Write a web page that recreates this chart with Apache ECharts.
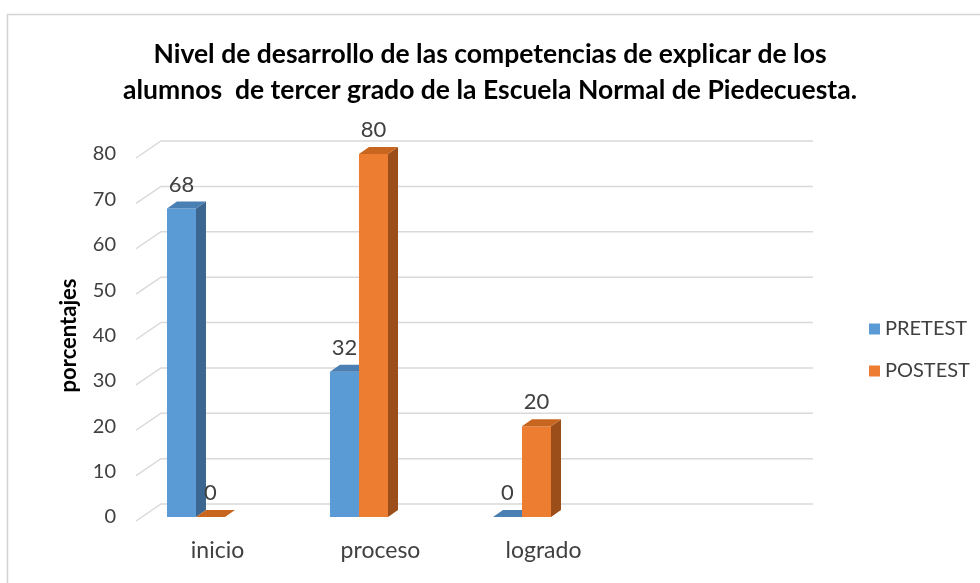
<!DOCTYPE html>
<html>
<head>
<meta charset="utf-8">
<script src="https://cdn.jsdelivr.net/npm/echarts@6/dist/echarts.min.js"></script>
<style>
  html, body { margin: 0; padding: 0; background: #fff; }
  #chart { width: 980px; height: 583px; }
</style>
</head>
<body>
<div id="chart"></div>
<script>
// datos del grafico
var categorias = ['inicio', 'proceso', 'logrado'];
var pretestVals = [68, 32, 0];
var postestVals = [0, 80, 20];
var ticksY = [0, 10, 20, 30, 40, 50, 60, 70, 80];

var colores = {
  PRETEST: { front: '#5b9bd5', top: '#4a7fb3', side: '#3a6690' },
  POSTEST: { front: '#ed7d31', top: '#c8651f', side: '#9c4e1a' }
};

var fuente = 'Lato, "Open Sans", sans-serif';
var DX = 10, DY = 7;          // profundidad de las barras
var WX = 25, WY = 17;         // profundidad de la pared

function barras3d(nombre, idx) {
  var c = colores[nombre];
  return function (params, api) {
    var cat = api.value(0), v = api.value(1);
    var top = api.coord([cat, v]);
    var base = api.coord([cat, 0]);
    var band = api.size([1, 0])[0];
    var w = band * 0.178;
    var cx = top[0] - band * 0.132;
    var x0 = idx === 0 ? cx - w : cx;
    var ty = top[1], by = base[1];
    return {
      type: 'group',
      children: [
        { type: 'rect', shape: { x: x0, y: ty, width: w, height: by - ty }, style: { fill: c.front } },
        { type: 'polygon', shape: { points: [[x0 + w, ty], [x0 + w + DX, ty - DY], [x0 + w + DX, by - DY], [x0 + w, by]] }, style: { fill: c.side } },
        { type: 'polygon', shape: { points: [[x0, ty], [x0 + DX, ty - DY], [x0 + w + DX, ty - DY], [x0 + w, ty]] }, style: { fill: c.top } },
        { type: 'text', x: x0 + w / 2, y: ty - 24, style: { text: String(v), fill: '#404040', font: '22px ' + fuente, align: 'center', verticalAlign: 'middle' } }
      ]
    };
  };
}

function pared(params, api) {
  var cs = params.coordSys;
  var y = api.coord([0, api.value(0)])[1];
  var x0 = cs.x, x1 = cs.x + cs.width;
  return {
    type: 'polyline',
    shape: { points: [[x0, y + 4], [x0 + WX, y + 4 - WY], [x1 + WX, y + 4 - WY]] },
    style: { stroke: '#d9d9d9', lineWidth: 1.5, fill: null }
  };
}

var chart = echarts.init(document.getElementById('chart'));
chart.setOption({
  animation: false,
  title: {
    text: 'Nivel de desarrollo de las competencias de explicar de los\nalumnos  de tercer grado de la Escuela Normal de Piedecuesta.',
    left: 'center',
    top: 31,
    textStyle: { fontFamily: fuente, fontWeight: 'bold', fontSize: 26.5, lineHeight: 36, color: '#000' }
  },
  graphic: [{
    type: 'rect', left: 5, top: 12, shape: { width: 1000, height: 600 },
    style: { fill: null, stroke: '#d4d4d4', lineWidth: 1.5 }, z: -1
  }],
  legend: {
    orient: 'vertical',
    left: 864,
    top: 314,
    itemWidth: 11,
    itemHeight: 11,
    itemGap: 22,
    icon: 'rect',
    textStyle: { fontFamily: fuente, fontSize: 20, color: '#404040' },
    data: ['PRETEST', 'POSTEST']
  },
  grid: { left: 136, right: 192, top: 154, bottom: 66 },
  xAxis: {
    type: 'category',
    data: categorias.concat(['']),
    axisLine: { show: false },
    axisTick: { show: false },
    axisLabel: { fontFamily: fuente, fontSize: 23, color: '#404040', margin: 22 }
  },
  yAxis: {
    type: 'value',
    min: 0, max: 80, interval: 10,
    name: 'porcentajes',
    nameLocation: 'middle',
    nameGap: 56,
    nameRotate: 90,
    nameTextStyle: { fontFamily: fuente, fontWeight: 'bold', fontSize: 22, color: '#000' },
    axisLine: { show: false },
    axisTick: { show: false },
    splitLine: { show: false },
    axisLabel: { fontFamily: fuente, fontSize: 20, color: '#404040', margin: 20, padding: [7, 0, 0, 0] }
  },
  series: [
    {
      type: 'custom', name: 'pared', silent: true, z: 1,
      renderItem: pared,
      data: ticksY.map(function (t) { return [t]; }),
      encode: { y: 0 }
    },
    {
      type: 'custom', name: 'PRETEST', z: 2,
      itemStyle: { color: colores.PRETEST.front },
      renderItem: barras3d('PRETEST', 0),
      data: categorias.map(function (c, i) { return [i, pretestVals[i]]; }),
      encode: { x: 0, y: 1 }
    },
    {
      type: 'custom', name: 'POSTEST', z: 3,
      itemStyle: { color: colores.POSTEST.front },
      renderItem: barras3d('POSTEST', 1),
      data: categorias.map(function (c, i) { return [i, postestVals[i]]; }),
      encode: { x: 0, y: 1 }
    }
  ]
});
</script>
</body>
</html>
